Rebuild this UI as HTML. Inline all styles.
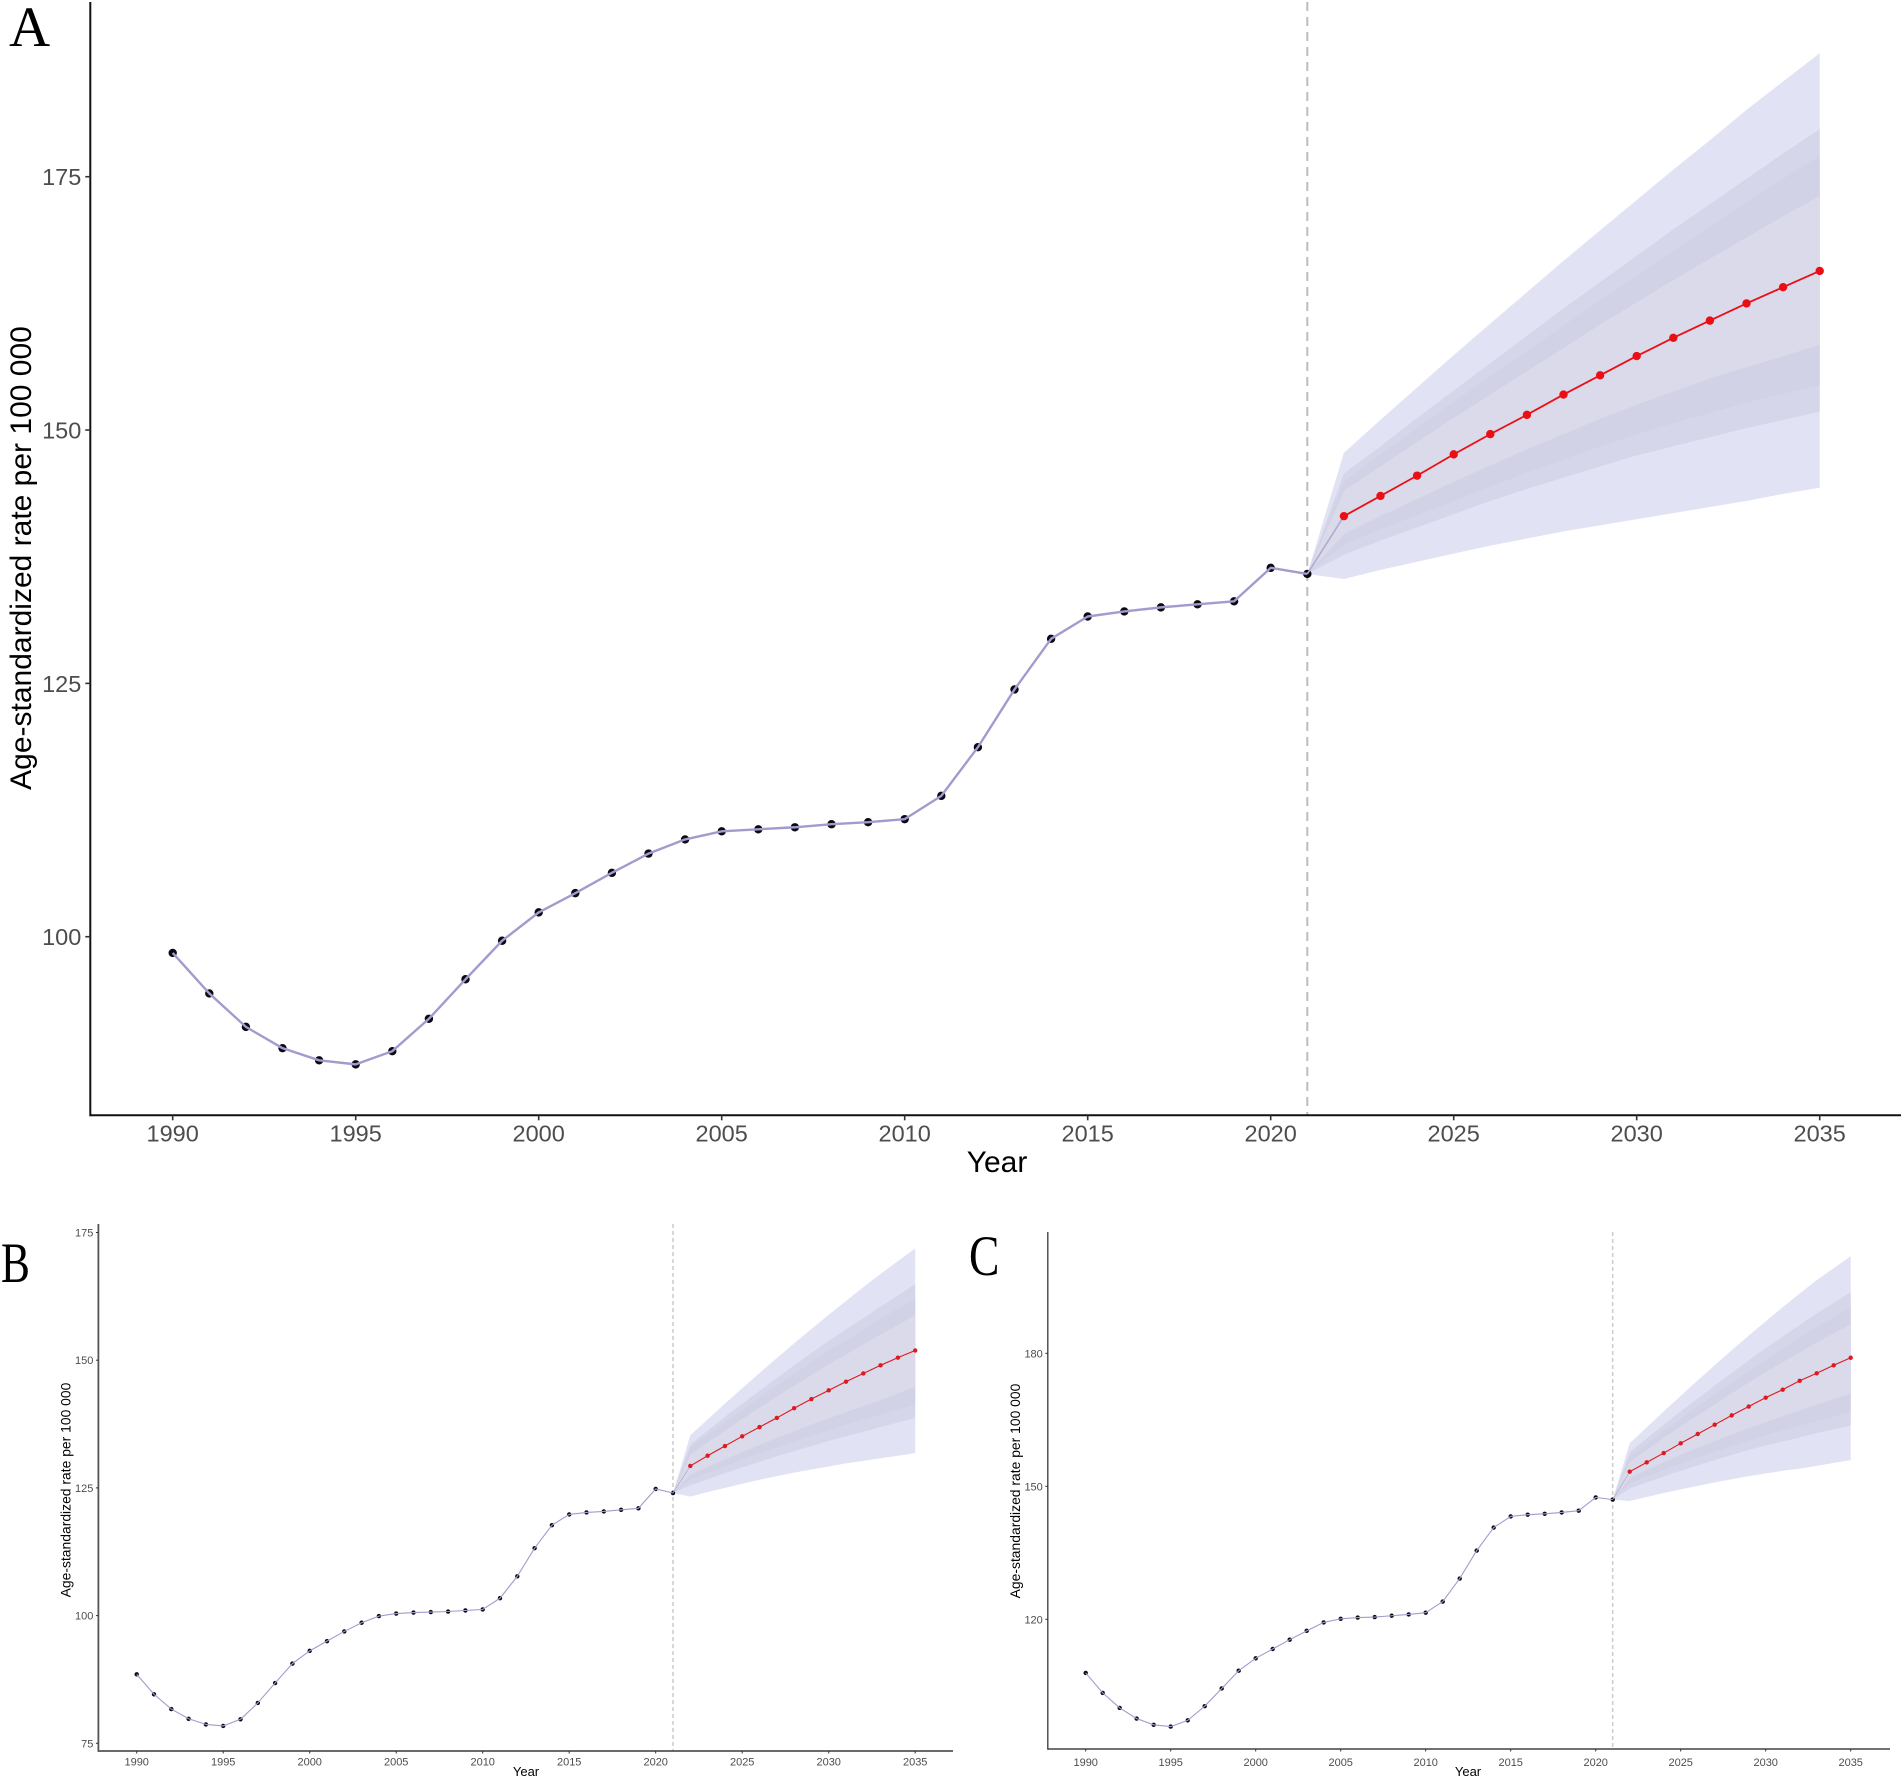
<!DOCTYPE html>
<html lang="en">
<head>
<meta charset="utf-8">
<title>Age-standardized rate forecasts</title>
<style>
html,body{margin:0;padding:0;background:#fff;}
#figure{display:block;width:1904px;height:1779px;}
text{font-family:"Liberation Sans",sans-serif;}
.panel-letter{font-family:"Liberation Serif",serif;fill:#000;}
</style>
</head>
<body>
<svg id="figure" xmlns="http://www.w3.org/2000/svg" width="1904" height="1779" viewBox="0 0 1904 1779">
  <rect x="0" y="0" width="1904" height="1779" fill="#fff"/>
  <text class="panel-letter" x="9" y="46" font-size="57">A</text>
  <text class="panel-letter" transform="translate(1 1282) scale(0.76 1)" font-size="57">B</text>
  <text class="panel-letter" transform="translate(969 1275) scale(0.8 1)" font-size="57">C</text>
  <g id="panel-a"></g>
  <g id="panel-b"></g>
  <g id="panel-c"></g>
</svg>
<script>
const historyYears = [1990,1991,1992,1993,1994,1995,1996,1997,1998,1999,2000,2001,2002,2003,2004,2005,2006,2007,2008,2009,2010,2011,2012,2013,2014,2015,2016,2017,2018,2019,2020,2021];
const forecastYears = [2022,2023,2024,2025,2026,2027,2028,2029,2030,2031,2032,2033,2034,2035];
const xTickLabels = [1990,1995,2000,2005,2010,2015,2020,2025,2030,2035];
const axisXTitle = "Year";
const axisYTitle = "Age-standardized rate per 100 000";
const forecastStartYear = 2021;

/* Panel A */
const aYTicks = [100,125,150,175];
const aHistory = [98.4,94.4,91.1,89.0,87.8,87.4,88.7,91.9,95.8,99.6,102.4,104.3,106.3,108.2,109.6,110.4,110.6,110.8,111.1,111.3,111.6,113.9,118.7,124.4,129.4,131.6,132.1,132.5,132.8,133.1,136.4,135.8];
const aForecast = [141.5,143.5,145.5,147.6,149.6,151.5,153.5,155.4,157.3,159.1,160.8,162.5,164.1,165.7];
const aOuterHi = [147.75,151.0,154.2,157.4,160.5,163.6,166.7,169.7,172.7,175.7,178.6,181.6,184.4,187.2];
const aMidHi = [145.7,148.4,151.2,153.9,156.6,159.3,162.0,164.6,167.2,169.8,172.3,174.8,177.3,179.7];
const aNearHi = [144.9,147.6,150.2,152.8,155.3,157.8,160.3,162.8,165.2,167.7,170.1,172.5,174.8,177.1];
const aInnerHi = [144.0,146.4,148.8,151.2,153.5,155.8,158.1,160.4,162.6,164.8,166.9,169.0,171.1,173.1];
const aInnerLo = [139.7,141.5,143.2,144.9,146.5,148.1,149.6,151.1,152.5,153.8,155.1,156.2,157.3,158.4];
const aNearLo = [138.7,140.2,141.6,143.0,144.4,145.8,147.1,148.4,149.6,150.7,151.7,152.7,153.6,154.4];
const aMidLo = [137.7,139.1,140.4,141.7,143.0,144.2,145.3,146.4,147.5,148.4,149.3,150.2,151.0,151.8];
const aOuterLo = [135.3,136.2,137.0,137.8,138.6,139.3,140.0,140.6,141.2,141.8,142.4,143.0,143.7,144.3];

/* Panel B */
const bYTicks = [75,100,125,150,175];
const bHistory = [88.5,84.6,81.7,79.8,78.7,78.4,79.7,82.9,86.8,90.6,93.1,95.0,96.9,98.6,99.9,100.4,100.6,100.7,100.8,101.0,101.2,103.4,107.7,113.2,117.7,119.8,120.2,120.4,120.7,121.0,124.8,124.0];
const bForecast = [129.3,131.3,133.2,135.1,136.9,138.7,140.6,142.4,144.1,145.8,147.4,149.0,150.5,151.9];
const bOuterHi = [135.3,138.4,141.5,144.5,147.5,150.4,153.3,156.1,158.9,161.6,164.3,166.9,169.4,171.9];
const bMidHi = [133.5,136.2,138.9,141.5,144.0,146.5,149.0,151.4,153.8,156.0,158.2,160.5,162.7,164.9];
const bNearHi = [132.9,135.4,137.9,140.3,142.7,145.0,147.3,149.6,151.8,153.9,156.0,158.1,160.1,162.1];
const bInnerHi = [131.5,133.9,136.2,138.5,140.7,142.9,145.0,147.1,149.2,151.1,153.1,155.0,156.9,158.8];
const bInnerLo = [127.6,129.1,130.6,132.0,133.4,134.8,136.1,137.4,138.6,139.8,141.0,142.2,143.5,144.8];
const bNearLo = [126.6,127.9,129.2,130.5,131.7,132.9,134.1,135.2,136.3,137.4,138.4,139.4,140.4,141.3];
const bMidLo = [125.5,126.7,127.9,129.0,130.1,131.2,132.2,133.2,134.2,135.1,136.0,136.9,137.8,138.7];
const bOuterLo = [123.3,124.2,125.0,125.8,126.6,127.3,128.0,128.6,129.2,129.8,130.3,130.8,131.3,131.8];

/* Panel C */
const cYTicks = [120,150,180];
const cHistory = [107.9,103.4,100.0,97.6,96.2,95.8,97.2,100.4,104.4,108.4,111.2,113.3,115.4,117.4,119.3,120.1,120.4,120.5,120.8,121.1,121.5,124.0,129.2,135.5,140.7,143.2,143.6,143.8,144.1,144.5,147.5,147.0];
const cForecast = [153.3,155.4,157.5,159.7,161.8,163.9,166.0,168.0,170.0,171.8,173.8,175.5,177.3,179.0];
const cOuterHi = [159.7,163.3,166.9,170.4,173.9,177.3,180.7,184.0,187.2,190.4,193.5,196.5,199.2,201.9];
const cMidHi = [157.7,160.8,163.9,166.9,169.8,172.7,175.6,178.4,181.2,183.8,186.4,189.0,191.4,193.8];
const cNearHi = [156.7,159.6,162.5,165.3,168.0,170.7,173.4,176.0,178.6,181.1,183.5,185.9,188.2,190.4];
const cInnerHi = [155.5,158.2,160.9,163.5,166.0,168.5,171.0,173.4,175.8,178.0,180.2,182.4,184.5,186.5];
const cInnerLo = [151.9,153.7,155.4,157.1,158.7,160.2,161.7,163.1,164.5,165.8,167.1,168.4,169.7,170.9];
const cNearLo = [150.7,152.2,153.7,155.1,156.5,157.8,159.1,160.3,161.5,162.6,163.7,164.7,165.7,166.7];
const cMidLo = [149.5,150.9,152.2,153.5,154.7,155.9,157.1,158.2,159.2,160.1,161.0,162.0,162.9,163.7];
const cOuterLo = [146.7,147.6,148.5,149.3,150.1,150.9,151.6,152.3,152.9,153.5,154.0,154.6,155.3,155.9];

const SVG_NS = "http://www.w3.org/2000/svg";

function make(parent, tag, name) {
  const el = document.createElementNS(SVG_NS, tag);
  
  
  parent.appendChild(el);
  return el;
}

function setAttrs(el, attrs) {
  Object.keys(attrs).forEach(function (k) { el.setAttribute(k, attrs[k]); });
  return el;
}

function bandPoints(hi, lo, x, y, startValue) {
  const pts = [[x(forecastStartYear), y(startValue)]];
  forecastYears.forEach(function (yr, i) { pts.push([x(yr), y(hi[i])]); });
  for (let i = forecastYears.length - 1; i >= 0; i--) pts.push([x(forecastYears[i]), y(lo[i])]);
  return pts.map(function (p) { return p[0].toFixed(2) + "," + p[1].toFixed(2); }).join(" ");
}

function drawPanel(opts) {
  const g = document.getElementById(opts.id);
  const x = function (yr) { return opts.x0 + (yr - 1990) * opts.xPerYear; };
  const y = function (v) { return opts.yRef - (v - opts.vRef) * opts.yPerUnit; };
  const s = opts.style;
  const startValue = opts.history[opts.history.length - 1];

  const bandDefs = [
    ["band-outer", opts.bands.outerHi, opts.bands.outerLo, "#e1e2f4"],
    ["band-middle", opts.bands.midHi, opts.bands.midLo, "#d6d6ea"],
    ["band-near", opts.bands.nearHi, opts.bands.nearLo, "#d2d2e7"],
    ["band-inner", opts.bands.innerHi, opts.bands.innerLo, "#dbdaea"]
  ];
  bandDefs.forEach(function (b) {
    const poly = make(g, 'polygon', b[0]);
    setAttrs(poly, { points: bandPoints(b[1], b[2], x, y, startValue), fill: b[3] });
  });

  const vline = make(g, 'line', 'forecast-start-line');
  setAttrs(vline, { x1: x(forecastStartYear), x2: x(forecastStartYear), y1: opts.axisTop, y2: opts.axisBottom, stroke: s.vColor, "stroke-width": s.vWidth, "stroke-dasharray": s.vDash });

  const dots = make(g, 'g', 'history-points');
  opts.history.forEach(function (v, i) {
    const c = make(dots, 'circle', 'history-point');
    setAttrs(c, { cx: x(historyYears[i]), cy: y(v), r: s.dotR, fill: "#0a0a14" });
  });

  const lineVals = opts.history.map(function (v, i) { return x(historyYears[i]).toFixed(2) + "," + y(v).toFixed(2); });
  const hist = make(g, 'polyline', 'history-line');
  setAttrs(hist, { points: lineVals.join(" "), fill: "none", stroke: "#a09ccd", "stroke-width": s.lineW, "stroke-linejoin": "round" });

  const bridge = make(g, 'line', 'forecast-bridge-line');
  setAttrs(bridge, { x1: x(forecastStartYear), y1: y(startValue), x2: x(forecastYears[0]), y2: y(opts.forecast[0]), stroke: "#b0aed2", "stroke-width": s.lineW * 0.7 });

  const fc = make(g, 'polyline', 'forecast-line');
  setAttrs(fc, { points: opts.forecast.map(function (v, i) { return x(forecastYears[i]).toFixed(2) + "," + y(v).toFixed(2); }).join(" "), fill: "none", stroke: s.red, "stroke-width": s.redW });

  const reds = make(g, 'g', 'forecast-points');
  opts.forecast.forEach(function (v, i) {
    const c = make(reds, 'circle', 'forecast-point');
    setAttrs(c, { cx: x(forecastYears[i]), cy: y(v), r: s.redR, fill: s.red });
  });

  const yAxis = make(g, 'line', 'y-axis-line');
  setAttrs(yAxis, { x1: opts.axisLeft, x2: opts.axisLeft, y1: opts.axisTop, y2: opts.axisBottom + s.axisW / 2, stroke: s.axisColor, "stroke-width": s.axisW });
  const xAxis = make(g, 'line', 'x-axis-line');
  setAttrs(xAxis, { x1: opts.axisLeft, x2: opts.axisRight, y1: opts.axisBottom, y2: opts.axisBottom, stroke: s.axisColor, "stroke-width": s.axisW });

  xTickLabels.forEach(function (yr) {
    const t = make(g, 'line', 'x-tick');
    setAttrs(t, { x1: x(yr), x2: x(yr), y1: opts.axisBottom, y2: opts.axisBottom + s.tickLen, stroke: "#333", "stroke-width": s.tickW });
    const l = make(g, 'text', 'x-tick-label');
    setAttrs(l, { x: x(yr), y: opts.axisBottom + s.xLabelDy, "text-anchor": "middle", "font-size": s.tickFont, fill: "#4d4d4d" });
    l.textContent = yr;
  });

  opts.yTicks.forEach(function (v) {
    const t = make(g, 'line', 'y-tick');
    setAttrs(t, { x1: opts.axisLeft - s.tickLen, x2: opts.axisLeft, y1: y(v), y2: y(v), stroke: "#333", "stroke-width": s.tickW });
    const l = make(g, 'text', 'y-tick-label');
    setAttrs(l, { x: opts.axisLeft - s.yLabelGap, y: y(v) + s.tickFont * 0.36, "text-anchor": "end", "font-size": s.tickFont, fill: "#4d4d4d" });
    l.textContent = v;
  });

  const xt = make(g, 'text', 'x-axis-title');
  setAttrs(xt, { x: opts.xTitleX, y: opts.xTitleY, "text-anchor": "middle", "font-size": s.xTitleFont, fill: "#000" });
  xt.textContent = axisXTitle;

  const yt = make(g, 'text', 'y-axis-title');
  setAttrs(yt, { transform: "translate(" + opts.yTitleX + " " + opts.yTitleY + ") rotate(-90)", "text-anchor": "middle", "font-size": s.yTitleFont, fill: "#000" });
  yt.textContent = axisYTitle;
}

drawPanel({
  id: "panel-a", x0: 172.7, xPerYear: 36.6, yRef: 936.7, vRef: 100, yPerUnit: 10.133,
  axisLeft: 90.3, axisRight: 1901, axisTop: 2, axisBottom: 1115.3,
  xTitleX: 997, xTitleY: 1172, yTitleX: 31, yTitleY: 558,
  yTicks: aYTicks, history: aHistory, forecast: aForecast,
  bands: { outerHi: aOuterHi, midHi: aMidHi, nearHi: aNearHi, innerHi: aInnerHi, innerLo: aInnerLo, nearLo: aNearLo, midLo: aMidLo, outerLo: aOuterLo },
  style: { dotR: 4.2, lineW: 2.4, redR: 4.2, redW: 1.8, red: "#ea0f14", vWidth: 2, vDash: "9 6", vColor: "#bdbdbd", axisColor: "#111", axisW: 2, tickLen: 5, tickW: 1.6, tickFont: 23.5, xLabelDy: 26, yLabelGap: 9, xTitleFont: 30, yTitleFont: 30 }
});

drawPanel({
  id: "panel-b", x0: 136.7, xPerYear: 17.3, yRef: 1615.6, vRef: 100, yPerUnit: 5.108,
  axisLeft: 98.4, axisRight: 953, axisTop: 1224, axisBottom: 1751,
  xTitleX: 526, xTitleY: 1776, yTitleX: 70.5, yTitleY: 1490,
  yTicks: bYTicks, history: bHistory, forecast: bForecast,
  bands: { outerHi: bOuterHi, midHi: bMidHi, nearHi: bNearHi, innerHi: bInnerHi, innerLo: bInnerLo, nearLo: bNearLo, midLo: bMidLo, outerLo: bOuterLo },
  style: { dotR: 2.2, lineW: 1.1, redR: 2.2, redW: 1.1, red: "#dd1a20", vWidth: 1.6, vDash: "4 3", vColor: "#cfcfcf", axisColor: "#555", axisW: 1.8, tickLen: 2.5, tickW: 1, tickFont: 11, xLabelDy: 14.5, yLabelGap: 5, xTitleFont: 13, yTitleFont: 13.9 }
});

drawPanel({
  id: "panel-c", x0: 1085.7, xPerYear: 17.0, yRef: 1619.3, vRef: 120, yPerUnit: 4.433,
  axisLeft: 1047.8, axisRight: 1890, axisTop: 1232, axisBottom: 1749,
  xTitleX: 1468, xTitleY: 1776, yTitleX: 1020, yTitleY: 1491,
  yTicks: cYTicks, history: cHistory, forecast: cForecast,
  bands: { outerHi: cOuterHi, midHi: cMidHi, nearHi: cNearHi, innerHi: cInnerHi, innerLo: cInnerLo, nearLo: cNearLo, midLo: cMidLo, outerLo: cOuterLo },
  style: { dotR: 2.2, lineW: 1.1, redR: 2.2, redW: 1.1, red: "#dd1a20", vWidth: 1.6, vDash: "4 3", vColor: "#cfcfcf", axisColor: "#444", axisW: 1.4, tickLen: 2.5, tickW: 1, tickFont: 11, xLabelDy: 17, yLabelGap: 5, xTitleFont: 13, yTitleFont: 13.9 }
});
</script>
</body>
</html>
